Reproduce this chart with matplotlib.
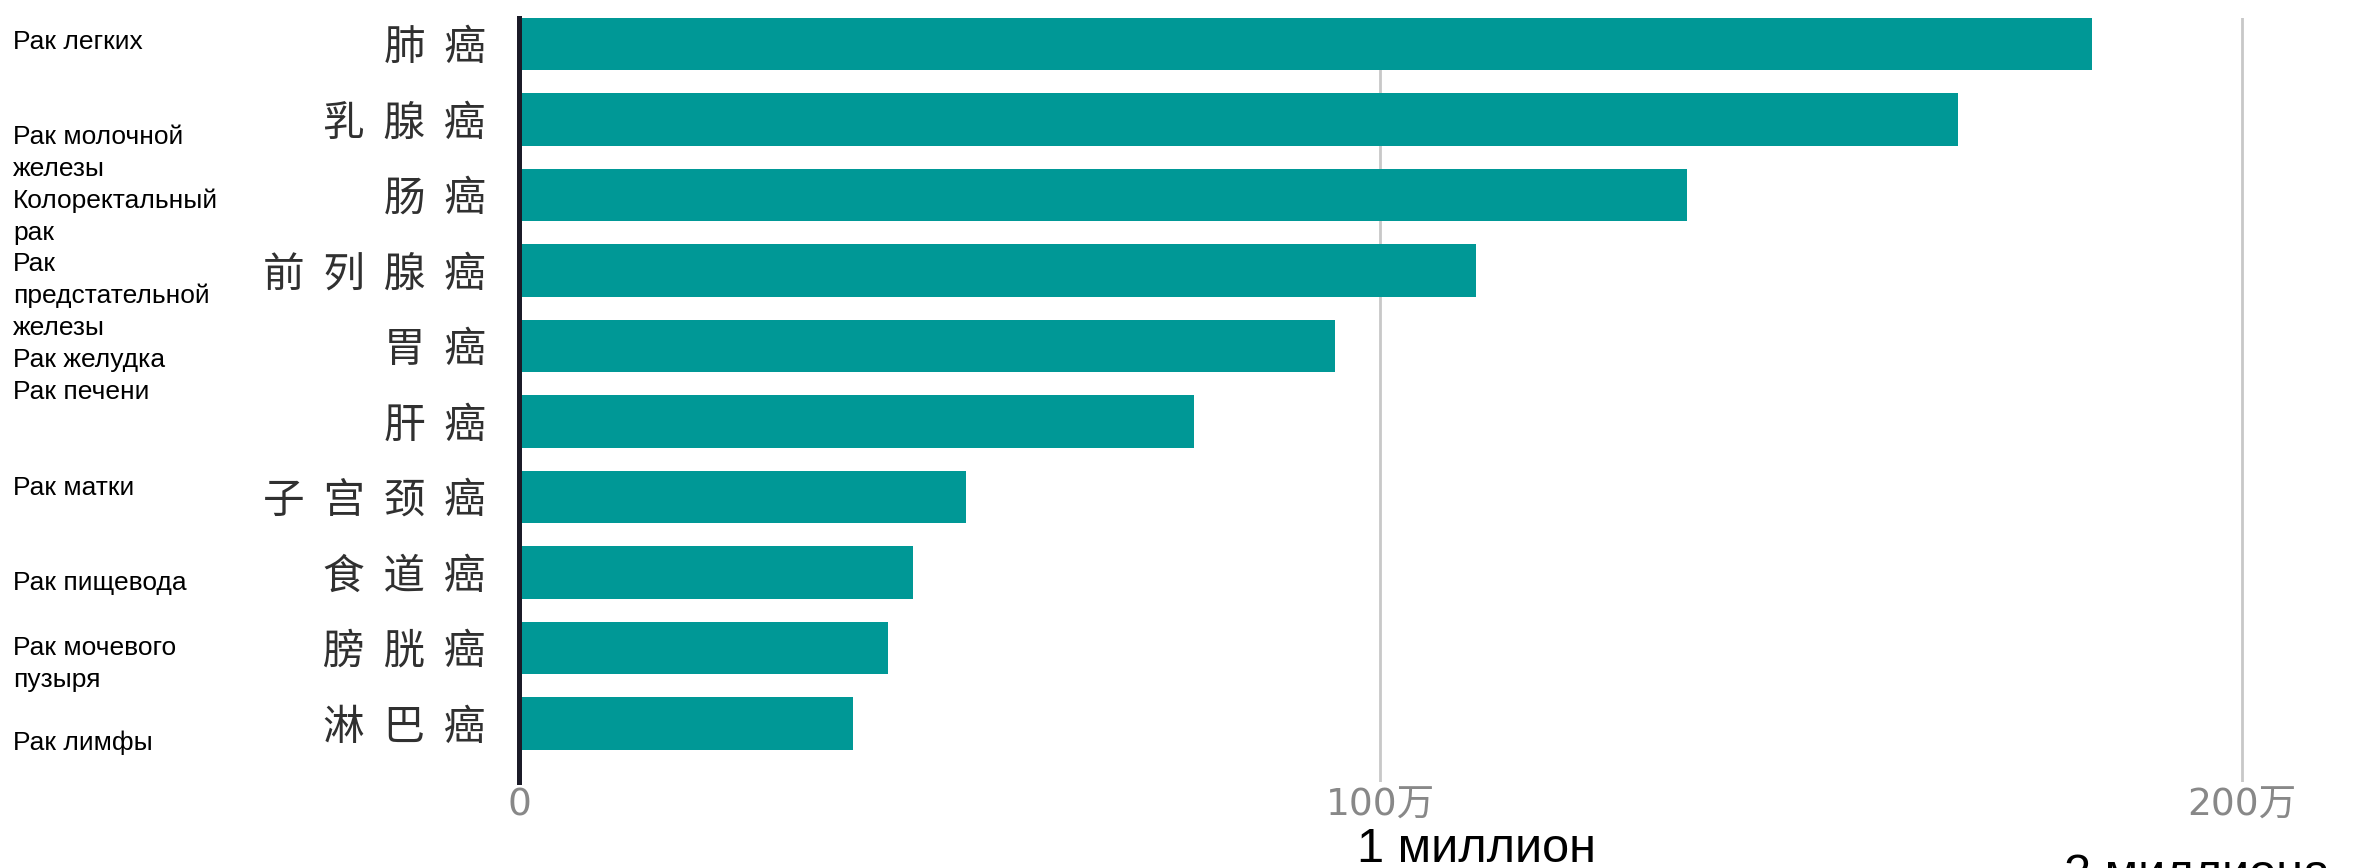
import matplotlib
matplotlib.use("Agg")
import matplotlib.pyplot as plt
import numpy as np

# ---- data ----
categories_zh = ["肺癌", "乳腺癌", "肠癌", "前列腺癌", "胃癌", "肝癌",
                 "子宫颈癌", "食道癌", "膀胱癌", "淋巴癌"]
categories_ru = ["Рак легких", "Рак молочной\nжелезы", "Колоректальный\nрак",
                 "Рак\nпредстательной\nжелезы", "Рак желудка", "Рак печени",
                 "Рак матки", "Рак пищевода", "Рак мочевого\nпузыря", "Рак лимфы"]
cases_wan = [182.6, 167.0, 135.6, 111.1, 94.7, 78.4, 51.9, 45.7, 42.8, 38.8]
x_ticks = [0, 100, 200]
x_ticklabels = ["0", "100万", "200万"]
million_labels = ["1 миллион", "2 миллиона"]

W, H = 2369, 868
fig = plt.figure(figsize=(W / 100, H / 100), dpi=100)
fig.patch.set_facecolor("white")

ax = fig.add_axes([519 / W, 86 / H, 1809 / W, 764 / H])
y = np.arange(len(categories_zh))
ax.barh(y, cases_wan, height=0.69, color="#009896", zorder=2)
ax.set_xlim(0, 210)
ax.set_ylim(9.775, -0.344)

ax.set_xticks(x_ticks)
ax.set_xticklabels(x_ticklabels, family=["DejaVu Sans", "Noto Sans CJK SC"],
                   fontsize=27, color="#888888")
ax.set_yticks(y)
ax.set_yticklabels(["  ".join(c) for c in categories_zh],
                   family=["Noto Sans CJK SC", "DejaVu Sans"],
                   fontsize=30, color="#303030")
ax.tick_params(axis="y", length=0, pad=24)
ax.tick_params(axis="x", length=0, pad=4)
for t in ax.get_yticklabels():
    t.set_va("center_baseline")

ax.set_axisbelow(True)
ax.xaxis.grid(True, color="#c8c8c8", linewidth=2)
for s in ["top", "right", "bottom"]:
    ax.spines[s].set_visible(False)
ax.spines["left"].set_color("#1b1b28")
ax.spines["left"].set_linewidth(3.6)
ax.spines["left"].set_zorder(3)

# ---- Russian labels at left (layout positions in pixels) ----
ru_baselines = [49, 144, 208, 271, 367, 399, 495, 590, 655, 750]
line_step = 32
for lab, yb in zip(categories_ru, ru_baselines):
    for k, line in enumerate(lab.split("\n")):
        fig.text(13 / W, 1 - (yb + k * line_step) / H, line,
                 family="Liberation Sans", fontsize=19, color="black",
                 ha="left", va="baseline")

# ---- million annotations ----
fig.text(1357 / W, 1 - 862 / H, million_labels[0], family="Liberation Sans",
         fontsize=35, color="black", ha="left", va="baseline")
fig.text(2064 / W, 1 - 888 / H, million_labels[1], family="Liberation Sans",
         fontsize=35, color="black", ha="left", va="baseline")

fig.savefig("out.png", dpi=100)
